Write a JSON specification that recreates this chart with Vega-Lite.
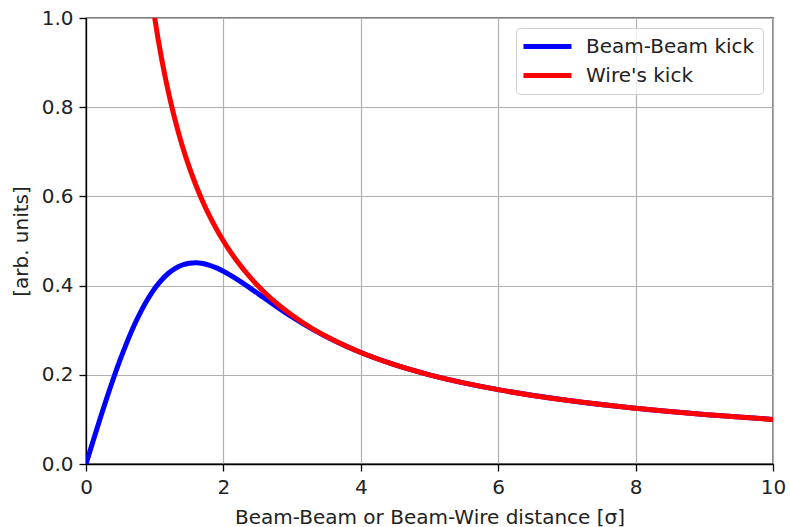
{
  "$schema": "https://vega.github.io/schema/vega-lite/v6.json",
  "autosize": {"type": "none"},
  "width": 687,
  "height": 446,
  "padding": {"left": 86, "top": 18, "right": 17, "bottom": 63},
  "background": "white",
  "config": {
    "font": "DejaVu Sans",
    "view": {"stroke": "#000000", "strokeWidth": 1.3},
    "axis": {
      "labelFont": "DejaVu Sans",
      "titleFont": "DejaVu Sans",
      "labelFontSize": 20,
      "titleFontSize": 20,
      "titleFontWeight": "normal",
      "labelColor": "#222222",
      "titleColor": "#222222",
      "gridColor": "#b0b0b0",
      "gridWidth": 1.2,
      "domainColor": "#000000",
      "domainWidth": 1.3,
      "tickColor": "#000000",
      "tickWidth": 1.3,
      "tickSize": 7,
      "labelPadding": 6,
      "labelFlush": false,
      "labelOverlap": false
    },
    "legend": {
      "labelFont": "DejaVu Sans",
      "labelFontSize": 20,
      "labelColor": "#222222",
      "labelLimit": 400
    }
  },
  "data": {
    "values": [
      {"x": 0, "y": 0, "s": "Beam-Beam kick"},
      {"x": 0.1, "y": 0.0499, "s": "Beam-Beam kick"},
      {"x": 0.2, "y": 0.099, "s": "Beam-Beam kick"},
      {"x": 0.3, "y": 0.1467, "s": "Beam-Beam kick"},
      {"x": 0.4, "y": 0.1922, "s": "Beam-Beam kick"},
      {"x": 0.5, "y": 0.235, "s": "Beam-Beam kick"},
      {"x": 0.6, "y": 0.2745, "s": "Beam-Beam kick"},
      {"x": 0.7, "y": 0.3104, "s": "Beam-Beam kick"},
      {"x": 0.8, "y": 0.3424, "s": "Beam-Beam kick"},
      {"x": 0.9, "y": 0.37, "s": "Beam-Beam kick"},
      {"x": 1.0, "y": 0.3935, "s": "Beam-Beam kick"},
      {"x": 1.1, "y": 0.4126, "s": "Beam-Beam kick"},
      {"x": 1.2, "y": 0.4277, "s": "Beam-Beam kick"},
      {"x": 1.3, "y": 0.4388, "s": "Beam-Beam kick"},
      {"x": 1.4, "y": 0.4462, "s": "Beam-Beam kick"},
      {"x": 1.5, "y": 0.4502, "s": "Beam-Beam kick"},
      {"x": 1.6, "y": 0.4513, "s": "Beam-Beam kick"},
      {"x": 1.7, "y": 0.4496, "s": "Beam-Beam kick"},
      {"x": 1.8, "y": 0.4456, "s": "Beam-Beam kick"},
      {"x": 1.9, "y": 0.4397, "s": "Beam-Beam kick"},
      {"x": 2.0, "y": 0.4323, "s": "Beam-Beam kick"},
      {"x": 2.2, "y": 0.4141, "s": "Beam-Beam kick"},
      {"x": 2.4, "y": 0.3933, "s": "Beam-Beam kick"},
      {"x": 2.6, "y": 0.3715, "s": "Beam-Beam kick"},
      {"x": 2.8, "y": 0.3501, "s": "Beam-Beam kick"},
      {"x": 3.0, "y": 0.3296, "s": "Beam-Beam kick"},
      {"x": 3.3, "y": 0.3017, "s": "Beam-Beam kick"},
      {"x": 3.6, "y": 0.2774, "s": "Beam-Beam kick"},
      {"x": 4.0, "y": 0.2499, "s": "Beam-Beam kick"},
      {"x": 4.5, "y": 0.2222, "s": "Beam-Beam kick"},
      {"x": 5.0, "y": 0.2, "s": "Beam-Beam kick"},
      {"x": 6.0, "y": 0.1667, "s": "Beam-Beam kick"},
      {"x": 7.0, "y": 0.1429, "s": "Beam-Beam kick"},
      {"x": 8.0, "y": 0.125, "s": "Beam-Beam kick"},
      {"x": 9.0, "y": 0.1111, "s": "Beam-Beam kick"},
      {"x": 10.0, "y": 0.1, "s": "Beam-Beam kick"},
      {"x": 0.95, "y": 1.0526, "s": "Wire's kick"},
      {"x": 1.0, "y": 1.0, "s": "Wire's kick"},
      {"x": 1.05, "y": 0.9524, "s": "Wire's kick"},
      {"x": 1.1, "y": 0.9091, "s": "Wire's kick"},
      {"x": 1.15, "y": 0.8696, "s": "Wire's kick"},
      {"x": 1.2, "y": 0.8333, "s": "Wire's kick"},
      {"x": 1.25, "y": 0.8, "s": "Wire's kick"},
      {"x": 1.3, "y": 0.7692, "s": "Wire's kick"},
      {"x": 1.35, "y": 0.7407, "s": "Wire's kick"},
      {"x": 1.4, "y": 0.7143, "s": "Wire's kick"},
      {"x": 1.5, "y": 0.6667, "s": "Wire's kick"},
      {"x": 1.6, "y": 0.625, "s": "Wire's kick"},
      {"x": 1.7, "y": 0.5882, "s": "Wire's kick"},
      {"x": 1.8, "y": 0.5556, "s": "Wire's kick"},
      {"x": 1.9, "y": 0.5263, "s": "Wire's kick"},
      {"x": 2.0, "y": 0.5, "s": "Wire's kick"},
      {"x": 2.2, "y": 0.4545, "s": "Wire's kick"},
      {"x": 2.4, "y": 0.4167, "s": "Wire's kick"},
      {"x": 2.6, "y": 0.3846, "s": "Wire's kick"},
      {"x": 2.8, "y": 0.3571, "s": "Wire's kick"},
      {"x": 3.0, "y": 0.3333, "s": "Wire's kick"},
      {"x": 3.3, "y": 0.303, "s": "Wire's kick"},
      {"x": 3.6, "y": 0.2778, "s": "Wire's kick"},
      {"x": 4.0, "y": 0.25, "s": "Wire's kick"},
      {"x": 4.5, "y": 0.2222, "s": "Wire's kick"},
      {"x": 5.0, "y": 0.2, "s": "Wire's kick"},
      {"x": 5.5, "y": 0.1818, "s": "Wire's kick"},
      {"x": 6.0, "y": 0.1667, "s": "Wire's kick"},
      {"x": 6.5, "y": 0.1538, "s": "Wire's kick"},
      {"x": 7.0, "y": 0.1429, "s": "Wire's kick"},
      {"x": 7.5, "y": 0.1333, "s": "Wire's kick"},
      {"x": 8.0, "y": 0.125, "s": "Wire's kick"},
      {"x": 8.5, "y": 0.1176, "s": "Wire's kick"},
      {"x": 9.0, "y": 0.1111, "s": "Wire's kick"},
      {"x": 9.5, "y": 0.1053, "s": "Wire's kick"},
      {"x": 10.0, "y": 0.1, "s": "Wire's kick"}
    ]
  },
  "encoding": {
    "x": {
      "field": "x", "type": "quantitative",
      "scale": {"domain": [0, 10], "nice": false, "zero": false},
      "axis": {"values": [0, 2, 4, 6, 8, 10], "format": "d", "title": "Beam-Beam or Beam-Wire distance [σ]", "titlePadding": 10}
    },
    "y": {
      "field": "y", "type": "quantitative",
      "scale": {"domain": [0, 1], "nice": false},
      "axis": {"values": [0, 0.2, 0.4, 0.6, 0.8, 1.0], "format": ".1f", "title": "[arb. units]", "titlePadding": 10}
    },
    "color": {
      "field": "s", "type": "nominal",
      "scale": {"domain": ["Beam-Beam kick", "Wire's kick"], "range": ["#0000ff", "#ff0000"]},
      "legend": {
        "title": null,
        "orient": "top-right",
        "offset": 10,
        "symbolType": "M-3,0L3,0",
        "symbolSize": 256,
        "symbolStrokeWidth": 5,
        "symbolOffset": 13,
        "rowPadding": 8,
        "labelOffset": 28,
        "padding": 8,
        "strokeColor": "#d0d0d0",
        "fillColor": "rgba(255,255,255,0.8)",
        "cornerRadius": 4
      }
    }
  },
  "layer": [
    {
      "transform": [{"filter": "datum.s == 'Beam-Beam kick'"}],
      "mark": {"type": "line", "strokeWidth": 5, "interpolate": "monotone", "clip": true}
    },
    {
      "transform": [{"filter": "datum.s == \"Wire's kick\""}],
      "mark": {"type": "line", "strokeWidth": 5, "interpolate": "monotone", "clip": true}
    }
  ]
}
